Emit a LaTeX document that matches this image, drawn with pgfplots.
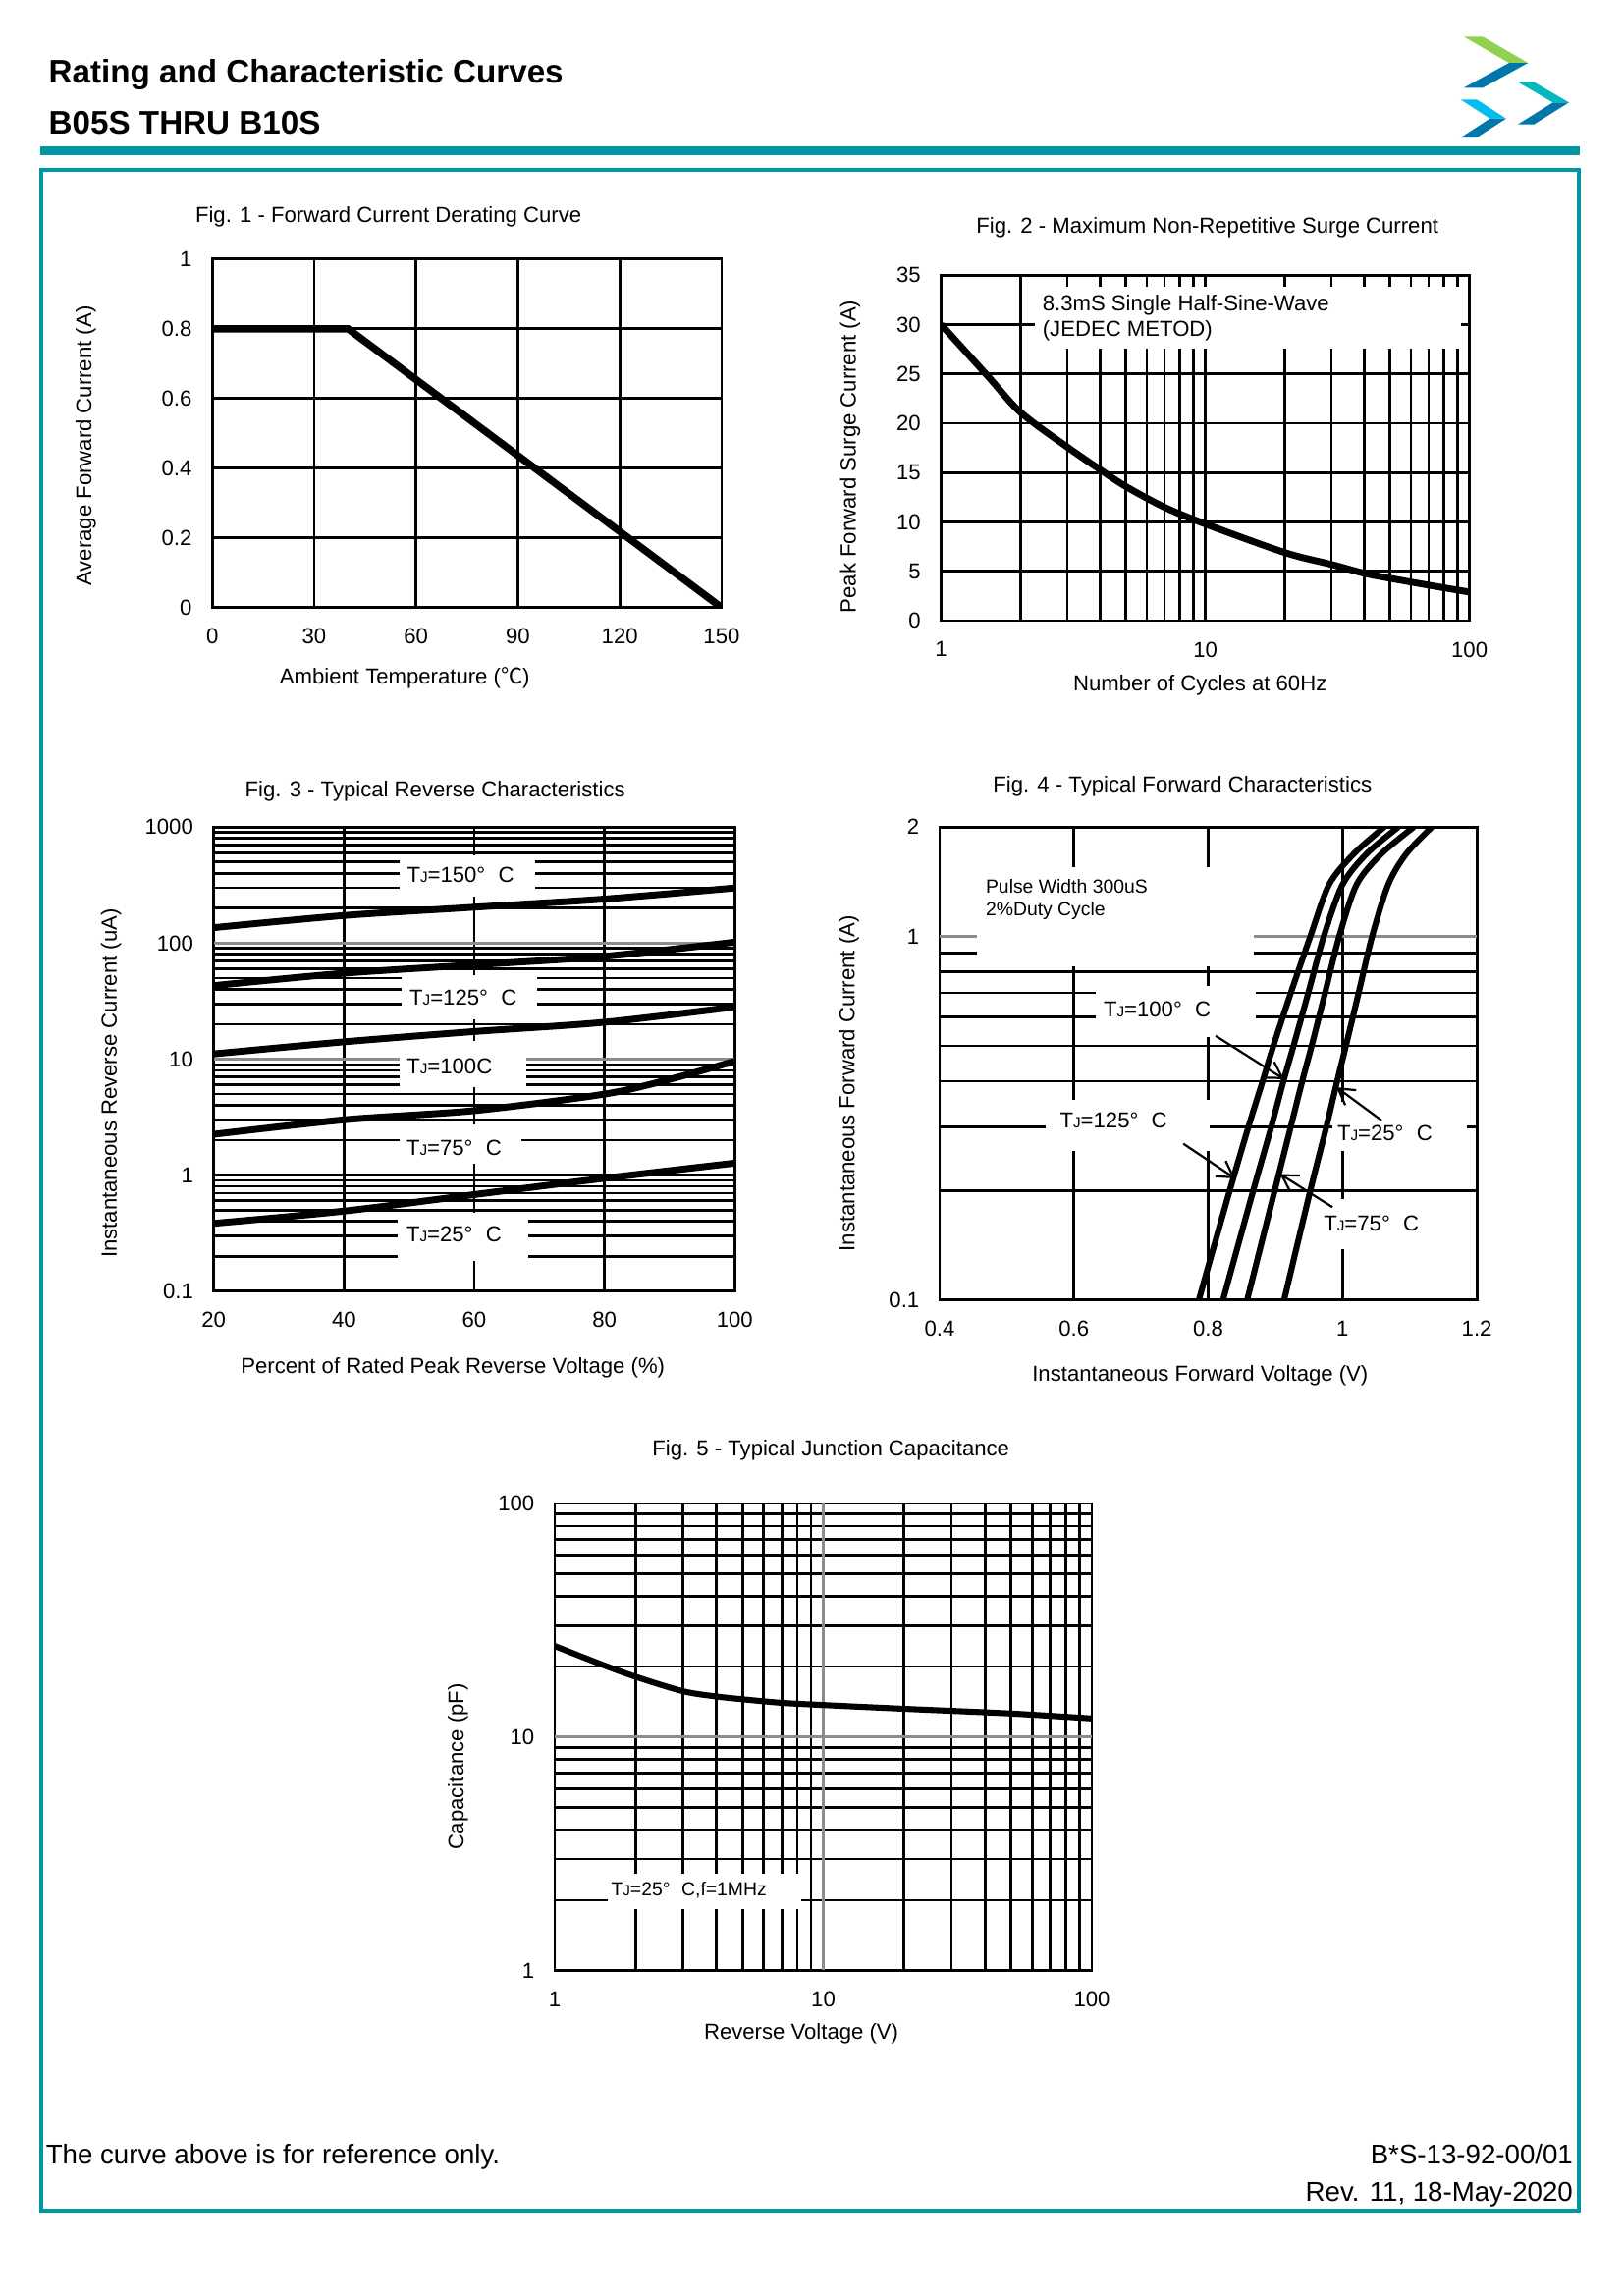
\documentclass[border=0pt]{standalone}
\usepackage{fontspec}
\setmainfont{Liberation Sans}
\newfontfamily\cjk{Noto Sans CJK SC}
\usepackage{pgfplots}
\pgfplotsset{compat=1.18}
\usetikzlibrary{arrows.meta}

\definecolor{frame}{RGB}{0,150,164}
\definecolor{logogreen}{RGB}{146,208,80}
\definecolor{logoblue}{RGB}{0,119,170}
\definecolor{logoteal}{RGB}{0,184,190}
\definecolor{logocyan}{RGB}{0,191,240}
\colorlet{gridgray}{black!45}

\newcommand{\TJ}{T{\fontsize{5.5}{6}\selectfont J}}
\newcommand{\fs}[1]{\fontsize{#1}{#1}\selectfont}

\pgfplotsset{
  every axis title shift=0pt,
  sheet/.style={
    scale only axis, anchor=north west,
    axis line style={line width=1pt},
    grid=both,
    major grid style={black, line width=1pt},
    minor grid style={black, line width=1pt},
    major tick length=0pt, minor tick length=0pt,
    tick label style={font=\fs{8}},
    xticklabel style={yshift=-1.5mm},
    yticklabel style={xshift=-1.4mm},
    label style={font=\fs{8}},
    title style={font=\fs{8}, anchor=center, yshift=-0.45mm},
    xlabel style={anchor=center},
    ylabel style={anchor=center},
  },
  graygrid/.style={grid=major, major grid style={gridgray, line width=1pt}},
  curve/.style={black, line width=2.5pt, no marks},
}

\begin{document}
\begin{tikzpicture}
\path (0,0) rectangle (210mm,-297mm);

% page furniture, in pixels of a 1109 px wide page
\begin{scope}[x=0.18936mm, y=-0.18936mm]
  \node[anchor=base west, inner sep=0, font=\fs{12}\bfseries] at (33,57) {Rating and Characteristic Curves};
  \node[anchor=base west, inner sep=0, font=\fs{12}\bfseries] at (33,91.6) {B05S THRU B10S};
  \fill[frame] (27.5,99.9) rectangle (1079.5,105.9);
  \draw[frame, line width=1.3pt] (28,116) rectangle (1078.8,1510);
  \node[anchor=base west, inner sep=0, font=\fs{10}] at (31,1478) {The curve above is for reference only.};
  \node[anchor=base east, inner sep=0, font=\fs{10}] at (1075,1478) {B*S-13-92-00/01};
  \node[anchor=base east, inner sep=0, font=\fs{10}] at (1075,1504) {Rev. 11, 18-May-2020};
  % logo
  \fill[logogreen] (1000,25) -- (1013,25) -- (1044,43) -- (1031,43) -- cycle;
  \fill[logoblue]  (1031,43) -- (1044,43) -- (1013,60) -- (1000,60) -- cycle;
  \fill[logoteal]  (1037,56) -- (1048,56) -- (1072,70) -- (1061,70) -- cycle;
  \fill[logoblue]  (1061,70) -- (1072,70) -- (1048,85) -- (1037,85) -- cycle;
  \fill[logocyan]  (998,68) -- (1009,68) -- (1029,81) -- (1018,81) -- cycle;
  \fill[logoblue]  (1018,81) -- (1029,81) -- (1009,94) -- (998,94) -- cycle;
\end{scope}

% Fig. 1
\begin{axis}[sheet, at={(27.46mm,-33.52mm)}, width=65.90mm, height=45.07mm,
  xmin=0, xmax=150, ymin=0, ymax=1,
  xtick={0,30,60,90,120,150}, xticklabels={0,30,60,90,120,150},
  ytick={0,0.2,0.4,0.6,0.8,1}, yticklabels={0,0.2,0.4,0.6,0.8,1},
  title={Fig. 1 - Forward Current Derating Curve},
  title style={at={(axis description cs:0.346,1.131)}},
  xlabel={Ambient Temperature ({\cjk ℃})},
  xlabel style={at={(axis description cs:0.378,-0.203)}},
  ylabel={Average Forward Current (A)},
  ylabel style={at={(axis description cs:-0.248,0.464)}},
]
\addplot[curve, line width=2.7pt] coordinates {(0,0.8) (40,0.8) (150,0)};
\end{axis}

% Fig. 2
\begin{axis}[sheet, xmode=log, at={(121.76mm,-35.60mm)}, width=68.36mm, height=44.69mm,
  xmin=1, xmax=100, ymin=0, ymax=35,
  xtick={1,10,100}, xticklabels={1,10,100},
  minor xtick={2,3,4,5,6,7,8,9,20,30,40,50,60,70,80,90},
  ytick={0,5,10,15,20,25,30,35}, yticklabels={0,5,10,15,20,25,30,35},
  title={Fig. 2 - Maximum Non-Repetitive Surge Current},
  title style={at={(axis description cs:0.504,1.148)}},
  xlabel={Number of Cycles at 60Hz},
  xlabel style={at={(axis description cs:0.490,-0.186)}},
  ylabel={Peak Forward Surge Current (A)},
  ylabel style={at={(axis description cs:-0.172,0.475)}},
]
\fill[white] (axis cs:2.26,27.6) rectangle (axis cs:93,33.8);
\node[anchor=west, inner sep=0, font=\fs{8}] at (axis cs:2.41,32.0) {8.3mS Single Half-Sine-Wave};
\node[anchor=west, inner sep=0, font=\fs{8}] at (axis cs:2.41,29.4) {(JEDEC METOD)};
\addplot[curve, smooth] coordinates {
  (1,30) (1.5,24.8) (2,21.1) (3,17.6) (4,15.3) (5,13.6) (7,11.5) (10,9.8) (20,6.9) (30,5.7) (40,4.8) (50,4.3) (70,3.6) (100,2.9)};
\end{axis}

% Fig. 3
\begin{axis}[sheet, ymode=log, at={(27.65mm,-106.99mm)}, width=67.41mm, height=60.03mm,
  xmin=20, xmax=100, ymin=0.1, ymax=1000,
  xtick={20,40,60,80,100}, xticklabels={20,40,60,80,100},
  ytick={0.1,1,1000}, yticklabels={0.1,1,1000},
  extra y ticks={10,100}, extra y tick labels={10,100}, extra y tick style={graygrid},
  minor ytick={0.2,0.3,0.4,0.5,0.6,0.7,0.8,0.9,2,3,4,5,6,7,8,9,20,30,40,50,60,70,80,90,200,300,400,500,600,700,800,900},
  title={Fig. 3 - Typical Reverse Characteristics},
  title style={at={(axis description cs:0.425,1.085)}},
  xlabel={Percent of Rated Peak Reverse Voltage (\%)},
  xlabel style={at={(axis description cs:0.459,-0.164)}},
  ylabel={Instantaneous Reverse Current (uA)},
  ylabel style={at={(axis description cs:-0.197,0.448)}},
]
\fill[white] (axis cs:48.5,250) rectangle (axis cs:69.3,575);
\fill[white] (axis cs:48.9,22) rectangle (axis cs:69.7,53);
\fill[white] (axis cs:48.5,5.7) rectangle (axis cs:68,14.4);
\fill[white] (axis cs:48.5,1.25) rectangle (axis cs:67.3,2.72);
\fill[white] (axis cs:48.2,0.184) rectangle (axis cs:68.3,0.471);
\node[font=\fs{8}] at (axis cs:57.9,385) {\TJ=150°\hspace{0.6em}C};
\node[font=\fs{8}] at (axis cs:58.3,34) {\TJ=125°\hspace{0.6em}C};
\node[font=\fs{8}] at (axis cs:56.2,8.7) {\TJ=100C};
\node[font=\fs{8}] at (axis cs:56.9,1.73) {\TJ=75°\hspace{0.6em}C};
\node[font=\fs{8}] at (axis cs:56.9,0.309) {\TJ=25°\hspace{0.6em}C};
\addplot[curve, smooth] coordinates {(20,136) (40,173) (60,204) (80,240) (100,299)};
\addplot[curve, smooth] coordinates {(20,43) (40,55) (60,65) (80,77) (100,102)};
\addplot[curve, smooth] coordinates {(20,11.1) (40,14.1) (60,17.3) (80,20.8) (100,28.2)};
\addplot[curve, smooth] coordinates {(20,2.25) (40,3.0) (60,3.6) (80,5.0) (90,6.7) (100,9.6)};
\addplot[curve, smooth] coordinates {(20,0.384) (40,0.49) (60,0.68) (80,0.94) (100,1.27)};
\end{axis}

% Fig. 4
\begin{axis}[sheet, ymode=log, at={(121.57mm,-106.99mm)}, width=69.50mm, height=61.16mm,
  xmin=0.4, xmax=1.2, ymin=0.1, ymax=2,
  xtick={0.4,0.6,0.8,1,1.2}, xticklabels={0.4,0.6,0.8,1,1.2},
  ytick={0.1,2}, yticklabels={0.1,2},
  extra y ticks={1}, extra y tick labels={1}, extra y tick style={graygrid},
  minor ytick={0.2,0.3,0.4,0.5,0.6,0.7,0.8,0.9},
  title={Fig. 4 - Typical Forward Characteristics},
  title style={at={(axis description cs:0.452,1.093)}},
  xlabel={Instantaneous Forward Voltage (V)},
  xlabel style={at={(axis description cs:0.485,-0.161)}},
  ylabel={Instantaneous Forward Current (A)},
  ylabel style={at={(axis description cs:-0.169,0.458)}},
]
\fill[white] (axis cs:0.456,0.83) rectangle (axis cs:0.868,1.55);
\fill[white] (axis cs:0.633,0.53) rectangle (axis cs:0.871,0.73);
\fill[white] (axis cs:0.558,0.257) rectangle (axis cs:0.802,0.356);
\fill[white] (axis cs:0.985,0.257) rectangle (axis cs:1.185,0.35);
\fill[white] (axis cs:0.96,0.138) rectangle (axis cs:1.12,0.19);
\node[anchor=west, inner sep=0, font=\fs{7}] at (axis cs:0.468,1.37) {Pulse Width 300uS};
\node[anchor=west, inner sep=0, font=\fs{7}] at (axis cs:0.468,1.18) {2\%Duty Cycle};
\node[font=\fs{8}] at (axis cs:0.724,0.63) {\TJ=100°\hspace{0.6em}C};
\node[font=\fs{8}] at (axis cs:0.659,0.312) {\TJ=125°\hspace{0.6em}C};
\node[font=\fs{8}] at (axis cs:1.063,0.288) {\TJ=25°\hspace{0.6em}C};
\node[font=\fs{8}] at (axis cs:1.043,0.162) {\TJ=75°\hspace{0.6em}C};
\addplot[curve, line width=2.2pt, smooth] coordinates {
  (0.786,0.1) (0.832,0.2) (0.860,0.3) (0.881,0.4) (0.897,0.5) (0.923,0.7) (0.952,1.0) (0.980,1.39) (1.017,1.69) (1.062,2.0)};
\addplot[curve, line width=2.2pt, smooth] coordinates {
  (0.822,0.1) (0.867,0.2) (0.894,0.3) (0.912,0.4) (0.927,0.5) (0.949,0.7) (0.972,1.0) (1.000,1.39) (1.036,1.69) (1.083,2.0)};
\addplot[curve, line width=2.2pt, smooth] coordinates {
  (0.858,0.1) (0.899,0.2) (0.923,0.3) (0.940,0.4) (0.954,0.5) (0.974,0.7) (0.995,1.0) (1.021,1.39) (1.058,1.69) (1.106,2.0)};
\addplot[curve, line width=2.2pt, smooth] coordinates {
  (0.913,0.1) (0.952,0.2) (0.976,0.3) (0.992,0.4) (1.005,0.5) (1.024,0.7) (1.044,1.0) (1.068,1.39) (1.095,1.69) (1.133,2.0)};
\draw[line width=0.8pt, -{Straight Barb[length=2mm, width=2.4mm]}] (axis cs:0.811,0.533) -- (axis cs:0.913,0.405);
\draw[line width=0.8pt, -{Straight Barb[length=2mm, width=2.4mm]}] (axis cs:0.763,0.269) -- (axis cs:0.840,0.216);
\draw[line width=0.8pt, -{Straight Barb[length=2mm, width=2.4mm]}] (axis cs:1.058,0.312) -- (axis cs:0.991,0.385);
\draw[line width=0.8pt, -{Straight Barb[length=2mm, width=2.4mm]}] (axis cs:0.985,0.18) -- (axis cs:0.907,0.222);
\end{axis}

% Fig. 5
\begin{axis}[sheet, xmode=log, ymode=log, at={(71.77mm,-194.47mm)}, width=69.50mm, height=60.41mm,
  xmin=1, xmax=100, ymin=1, ymax=100,
  xtick={1,100}, xticklabels={1,100},
  extra x ticks={10}, extra x tick labels={10}, extra x tick style={graygrid},
  ytick={1,100}, yticklabels={1,100},
  extra y ticks={10}, extra y tick labels={10}, extra y tick style={graygrid},
  minor xtick={2,3,4,5,6,7,8,9,20,30,40,50,60,70,80,90},
  minor ytick={2,3,4,5,6,7,8,9,20,30,40,50,60,70,80,90},
  title={Fig. 5 - Typical Junction Capacitance},
  title style={at={(axis description cs:0.514,1.122)}},
  xlabel={Reverse Voltage (V)},
  xlabel style={at={(axis description cs:0.459,-0.135)}},
  ylabel={Capacitance (pF)},
  ylabel style={at={(axis description cs:-0.180,0.436)}},
]
\fill[white] (axis cs:1.58,1.84) rectangle (axis cs:8.3,2.6);
\node[font=\fs{7}] at (axis cs:3.16,2.21) {\TJ=25°\hspace{0.6em}C,f=1MHz};
\addplot[curve, line width=2.2pt, smooth] coordinates {
  (1,24.5) (1.5,20.4) (2,18.1) (3,15.7) (4,14.9) (5,14.5) (7,14.0) (10,13.7) (20,13.2) (50,12.6) (100,12.0)};
\end{axis}
\end{tikzpicture}
\end{document}
